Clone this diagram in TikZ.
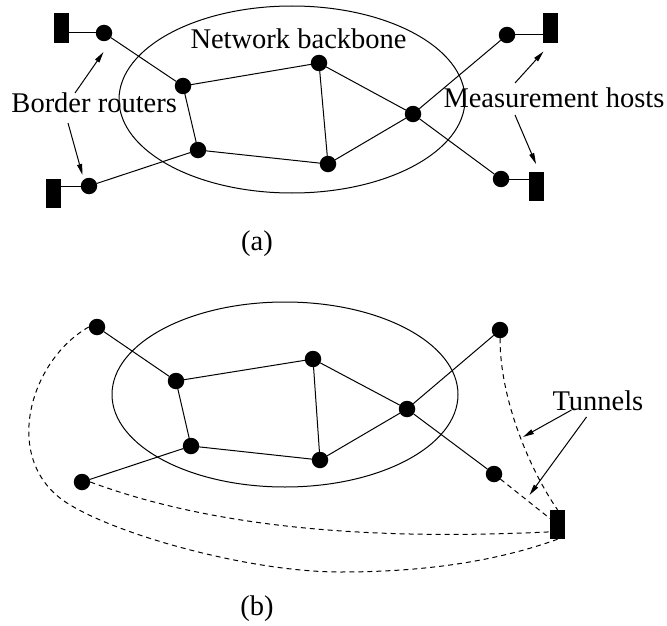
\documentclass[tikz,border=0pt]{standalone}
\usepackage{fontspec}
\setmainfont{Liberation Serif}
\usetikzlibrary{arrows.meta,calc}
\begin{document}
\begin{tikzpicture}[x=1pt,y=-1pt,
  every path/.style={line width=1pt},
  router/.style={circle,fill=black,minimum size=16.5pt,inner sep=0pt,outer sep=0pt},
  host/.style={rectangle,fill=black,minimum width=15pt,minimum height=29.5pt,inner sep=0pt,outer sep=0pt},
  lbl/.style={inner sep=0pt,anchor=base west,font=\fontsize{28.5}{34}\selectfont},
  captxt/.style={inner sep=0pt,anchor=base,font=\fontsize{28.5}{34}\selectfont},
  ptr/.style={-{Triangle[length=11pt,width=5pt]}},
  tunnel/.style={dash pattern=on 5pt off 4pt}]
\useasboundingbox (0,0) rectangle (667,626);

% ---------- (a) ----------
\draw (292,99.5) ellipse [x radius=173, y radius=93.5];
\node[router] (rTL) at (104,33) {};
\node[router] (A) at (183,86) {};
\node[router] (B) at (198,150) {};
\node[router] (C) at (319,63) {};
\node[router] (D) at (328,164) {};
\node[router] (E) at (413,114) {};
\node[router] (rBL) at (89,186) {};
\node[router] (rTR) at (507,35) {};
\node[router] (rBR) at (501,179) {};
\node[host] (hTL) at (61,28) {};
\node[host] (hBL) at (53.5,193.5) {};
\node[host] (hTR) at (550.5,28) {};
\node[host] (hBR) at (536.5,186.5) {};

\draw (rTL) -- (A);
\draw (A) -- (C);
\draw (A) -- (B);
\draw (B) -- (D);
\draw (C) -- (D);
\draw (C) -- (E);
\draw (D) -- (E);
\draw (E) -- (rTR);
\draw (E) -- (rBR);
\draw (B) -- (rBL);
\draw (rTL) -- (rTL -| hTL.east);
\draw (rBL) -- (rBL -| hBL.east);
\draw (rTR) -- (rTR -| hTR.west);
\draw (rBR) -- (rBR -| hBR.west);

\node[lbl] (tNB) at (190,49) {Network backbone};
\node[lbl] (tBR) at (11,113) {Border routers};
\node[lbl] (tMH) at (443,107) {Measurement hosts};
\node[captxt] (ta) at (257,250) {(a)};

\coordinate (br1s) at (75,93);
\coordinate (br1e) at (103.5,52);
\coordinate (br2s) at (68,123);
\coordinate (br2e) at (82.5,175);
\coordinate (mh1s) at (515,83);
\coordinate (mh1e) at (543.5,51.5);
\coordinate (mh2s) at (515,115);
\coordinate (mh2e) at (536,164);
\draw[ptr] (br1s) -- (br1e);
\draw[ptr] (br2s) -- (br2e);
\draw[ptr] (mh1s) -- (mh1e);
\draw[ptr] (mh2s) -- (mh2e);

% ---------- (b) ----------
\draw (285,394.5) ellipse [x radius=173, y radius=92.5];
\node[router] (bTL) at (97,327) {};
\node[router] (bA) at (176,381) {};
\node[router] (bB) at (191,446) {};
\node[router] (bC) at (313,359) {};
\node[router] (bD) at (320,460) {};
\node[router] (bE) at (407,409) {};
\node[router] (bBL) at (82,482) {};
\node[router] (bTR) at (500,330) {};
\node[router] (bBR) at (494,474) {};
\node[host] (rb) at (557.5,524.5) {};

\draw (bTL) -- (bA);
\draw (bA) -- (bC);
\draw (bA) -- (bB);
\draw (bB) -- (bD);
\draw (bC) -- (bD);
\draw (bC) -- (bE);
\draw (bD) -- (bE);
\draw (bE) -- (bTR);
\draw (bE) -- (bBR);
\draw (bB) -- (bBL);

\draw[tunnel] (bTL.west) .. controls (30,360) and (0,460) .. (67,503)
   .. controls (117,535) and (250,572) .. (340,572)
   .. controls (430,572) and (500,560) .. (rb.south);
\draw[tunnel] (bBL.east) .. controls (220,530) and (380,540) .. ($(rb.south west)!0.25!(rb.north west)$);
\draw[tunnel] (bTR.south) .. controls (500,400) and (530,470) .. (rb.north);
\draw[tunnel] (bBR) -- (rb);

\node[lbl] (tTu) at (552,410) {Tunnels};
\node[captxt] (tb) at (257,615) {(b)};
\coordinate (tu1s) at (571.5,410);
\coordinate (tu1e) at (523,437);
\coordinate (tu2s) at (586.5,417);
\coordinate (tu2e) at (529.5,495);
\draw[ptr] (tu1s) -- (tu1e);
\draw[ptr] (tu2s) -- (tu2e);
\end{tikzpicture}
\end{document}
